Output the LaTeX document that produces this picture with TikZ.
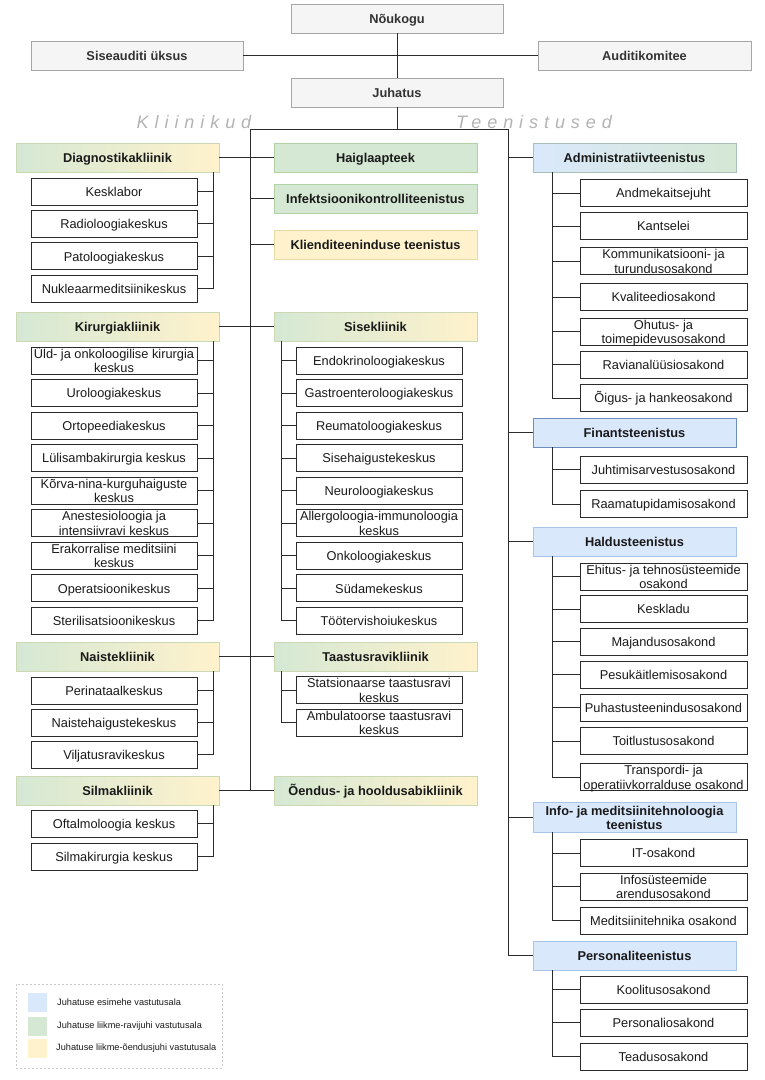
\documentclass[tikz,border=0pt]{standalone}
\usepackage{fontspec}
\setmainfont{Liberation Sans}
\definecolor{cblue}{HTML}{DAE8FC}
\definecolor{cgreen}{HTML}{D5E8D4}
\definecolor{cyellow}{HTML}{FFF2CC}
\definecolor{cgray}{HTML}{F5F5F5}
\definecolor{lineC}{HTML}{2B2B2B}
\definecolor{txt}{HTML}{1A1A1A}
\definecolor{txtgray}{HTML}{333333}
\definecolor{grayB}{HTML}{A6A6A6}
\definecolor{clinB}{HTML}{CCD8B4}
\definecolor{greenB}{HTML}{B3D1A6}
\definecolor{yellowB}{HTML}{E6D9A8}
\definecolor{blueB}{HTML}{A9C4EB}
\definecolor{blueD}{HTML}{6C8EBF}
\definecolor{admB}{HTML}{A9C2B8}
\definecolor{lblgray}{HTML}{B3B3B3}
\definecolor{legB}{HTML}{C8C8C8}
\begin{document}
\begin{tikzpicture}[x=1pt,y=-1pt,
  base/.style={inner sep=0pt, align=center, text=txt, font=\fontsize{12.8}{14.5}\selectfont},
  one/.style={text height=10.8pt, text depth=1.2pt},
  two/.style={text height=25.6pt, text depth=1.4pt},
  child/.style={base, one, draw=lineC, line width=0.9pt, fill=white, minimum width=166pt, minimum height=27pt},
  childtwo/.style={child, two},
  rchild/.style={child, minimum width=167pt},
  rchildtwo/.style={rchild, two},
  hdr/.style={base, one, font=\fontsize{12.8}{14.5}\selectfont\bfseries, minimum width=203pt, minimum height=29pt, line width=0.9pt},
  clin/.style={hdr, left color=cgreen, right color=cyellow, draw=clinB},
  greenbox/.style={hdr, fill=cgreen, draw=greenB},
  yellowbox/.style={hdr, fill=cyellow, draw=yellowB},
  bluebox/.style={hdr, fill=cblue, draw=blueB},
  topbox/.style={hdr, fill=cgray, draw=grayB, minimum width=212pt, text=txtgray},
  conn/.style={draw=lineC, line width=0.9pt},
  sectlbl/.style={anchor=base, text=lblgray, font=\fontsize{18}{18}\selectfont\itshape\addfontfeatures{LetterSpace=33}},
  legtxt/.style={anchor=west, inner sep=0pt, text=txt, font=\fontsize{9.2}{11}\selectfont},
  swatch/.style={minimum width=19pt, minimum height=19pt, inner sep=0pt}
]
\useasboundingbox (0,0) rectangle (764,1080);

% ---- top ----
\node[topbox] (nou) at (397,18.5) {Nõukogu};
\node[topbox] (sia) at (137,55.5) {Siseauditi üksus};
\node[topbox, minimum width=213pt] (aud) at (644.5,55.5) {Auditikomitee};
\node[topbox] (juh) at (397,92.5) {Juhatus};
\draw[conn] (nou.south) -- (juh.north);
\draw[conn] (sia.east) -- (aud.west);

\node[sectlbl] (lblk) at (194,128) {Kliinikud};
\node[sectlbl] (lblt) at (534,128) {Teenistused};

% ---- left column ----
\node[clin] (dh) at (117.5,157.5) {Diagnostikakliinik};
\node[clin] (kh) at (117.5,326.5) {Kirurgiakliinik};
\node[clin] (nh) at (117.5,656.5) {Naistekliinik};
\node[clin] (sh) at (117.5,790.5) {Silmakliinik};

\node[child] (d1) at (114,191.5) {Kesklabor};
\node[child] (d2) at (114,223.85) {Radioloogiakeskus};
\node[child] (d3) at (114,256.2) {Patoloogiakeskus};
\node[child] (d4) at (114,288.55) {Nukleaarmeditsiinikeskus};

\node[childtwo] (k1) at (114,360.5) {Üld- ja onkoloogilise kirurgia\\keskus};
\node[child] (k2) at (114,393.05) {Uroloogiakeskus};
\node[child] (k3) at (114,425.6) {Ortopeediakeskus};
\node[child] (k4) at (114,458.15) {Lülisambakirurgia keskus};
\node[childtwo] (k5) at (114,490.7) {Kõrva-nina-kurguhaiguste\\keskus};
\node[childtwo] (k6) at (114,523.25) {Anestesioloogia ja\\intensiivravi keskus};
\node[childtwo] (k7) at (114,555.8) {Erakorralise meditsiini\\keskus};
\node[child] (k8) at (114,588.35) {Operatsioonikeskus};
\node[child] (k9) at (114,620.9) {Sterilisatsioonikeskus};

\node[child] (n1) at (114,690.5) {Perinataalkeskus};
\node[child] (n2) at (114,722.5) {Naistehaigustekeskus};
\node[child] (n3) at (114,754.5) {Viljatusravikeskus};

\node[child] (s1) at (114,823.5) {Oftalmoloogia keskus};
\node[child] (s2) at (114,856.5) {Silmakirurgia keskus};

\draw[conn] ([xshift=-6pt]dh.south east) |- (d4.east);
\foreach \i in {1,2,3} \draw[conn] (d\i.east) -- ++(16,0);
\draw[conn] ([xshift=-6pt]kh.south east) |- (k9.east);
\foreach \i in {1,...,8} \draw[conn] (k\i.east) -- ++(16,0);
\draw[conn] ([xshift=-6pt]nh.south east) |- (n3.east);
\foreach \i in {1,2} \draw[conn] (n\i.east) -- ++(16,0);
\draw[conn] ([xshift=-6pt]sh.south east) |- (s2.east);
\draw[conn] (s1.east) -- ++(16,0);

% ---- middle column ----
\node[greenbox] (ha) at (375.5,157.5) {Haiglaapteek};
\node[greenbox] (inf) at (375.5,198.5) {Infektsioonikontrolliteenistus};
\node[yellowbox] (kl) at (375.5,244.5) {Klienditeeninduse teenistus};
\node[clin] (sis) at (375.5,326.5) {Sisekliinik};
\node[clin] (ta) at (375.5,656.5) {Taastusravikliinik};
\node[clin] (oe) at (375.5,790.5) {Õendus- ja hooldusabikliinik};

\node[child] (m1) at (379,360.5) {Endokrinoloogiakeskus};
\node[child] (m2) at (379,393.05) {Gastroenteroloogiakeskus};
\node[child] (m3) at (379,425.6) {Reumatoloogiakeskus};
\node[child] (m4) at (379,458.15) {Sisehaigustekeskus};
\node[child] (m5) at (379,490.7) {Neuroloogiakeskus};
\node[childtwo] (m6) at (379,523.25) {Allergoloogia-immunoloogia\\keskus};
\node[child] (m7) at (379,555.8) {Onkoloogiakeskus};
\node[child] (m8) at (379,588.35) {Südamekeskus};
\node[child] (m9) at (379,620.9) {Töötervishoiukeskus};

\node[childtwo] (t1) at (379,690) {Statsionaarse taastusravi\\keskus};
\node[childtwo] (t2) at (379,722.5) {Ambulatoorse taastusravi\\keskus};

\draw[conn] ([xshift=8pt]sis.south west) |- (m9.west);
\foreach \i in {1,...,8} \draw[conn] (m\i.west) -- ++(-14,0);
\draw[conn] ([xshift=8pt]ta.south west) |- (t2.west);
\draw[conn] (t1.west) -- ++(-14,0);

% ---- right column ----
\node[hdr, left color=cblue, right color=cgreen, draw=admB] (adm) at (634.5,157.5) {Administratiivteenistus};
\node[bluebox, draw=blueD] (fin) at (634.5,432.5) {Finantsteenistus};
\node[bluebox] (hal) at (634.5,541.5) {Haldusteenistus};
\node[bluebox, minimum height=30pt, text height=27.5pt, text depth=2.5pt] (info) at (634.5,817) {Info- ja meditsiinitehnoloogia\\teenistus};
\node[bluebox] (pers) at (634.5,955.5) {Personaliteenistus};

\node[rchild] (a1) at (663.5,193) {Andmekaitsejuht};
\node[rchild] (a2) at (663.5,226) {Kantselei};
\node[rchildtwo] (a3) at (663.5,261) {Kommunikatsiooni- ja\\turundusosakond};
\node[rchild] (a4) at (663.5,297) {Kvaliteediosakond};
\node[rchildtwo] (a5) at (663.5,331.5) {Ohutus- ja\\toimepidevusosakond};
\node[rchild] (a6) at (663.5,364.5) {Ravianalüüsiosakond};
\node[rchild] (a7) at (663.5,398) {Õigus- ja hankeosakond};

\node[rchild] (f1) at (663.5,469.5) {Juhtimisarvestusosakond};
\node[rchild] (f2) at (663.5,504) {Raamatupidamisosakond};

\node[rchildtwo] (h1) at (663.5,576.5) {Ehitus- ja tehnosüsteemide\\osakond};
\node[rchild] (h2) at (663.5,609) {Keskladu};
\node[rchild] (h3) at (663.5,641.5) {Majandusosakond};
\node[rchild] (h4) at (663.5,674.5) {Pesukäitlemisosakond};
\node[rchild] (h5) at (663.5,707.5) {Puhastusteenindusosakond};
\node[rchild] (h6) at (663.5,741) {Toitlustusosakond};
\node[rchildtwo] (h7) at (663.5,777) {Transpordi- ja\\operatiivkorralduse osakond};

\node[rchild] (i1) at (663.5,853) {IT-osakond};
\node[rchildtwo] (i2) at (663.5,886.5) {Infosüsteemide\\arendusosakond};
\node[rchild] (i3) at (663.5,920.5) {Meditsiinitehnika osakond};

\node[rchild] (p1) at (663.5,989.5) {Koolitusosakond};
\node[rchild] (p2) at (663.5,1022.5) {Personaliosakond};
\node[rchild] (p3) at (663.5,1056.5) {Teadusosakond};

\draw[conn] ([xshift=20pt]adm.south west) |- (a7.west);
\foreach \i in {1,...,6} \draw[conn] (a\i.west) -- ++(-27,0);
\draw[conn] ([xshift=20pt]fin.south west) |- (f2.west);
\draw[conn] (f1.west) -- ++(-27,0);
\draw[conn] ([xshift=20pt]hal.south west) |- (h7.west);
\foreach \i in {1,...,6} \draw[conn] (h\i.west) -- ++(-27,0);
\draw[conn] ([xshift=20pt]info.south west) |- (i3.west);
\foreach \i in {1,2} \draw[conn] (i\i.west) -- ++(-27,0);
\draw[conn] ([xshift=20pt]pers.south west) |- (p3.west);
\foreach \i in {1,2} \draw[conn] (p\i.west) -- ++(-27,0);

% ---- trunks ----
\coordinate (tl) at (250,129);
\coordinate (tr) at (508,129);
\draw[conn] (juh.south) -- (juh.south |- tl);
\draw[conn] (tl) -- (tr);
\draw[conn] (tl) -- (tl |- sh.east);
\draw[conn] (tr) |- (pers.west);
\draw[conn] (dh.east) -- (ha.west);
\draw[conn] (kh.east) -- (sis.west);
\draw[conn] (nh.east) -- (ta.west);
\draw[conn] (sh.east) -- (oe.west);
\draw[conn] (inf.west) -- (inf.west -| tl);
\draw[conn] (kl.west) -- (kl.west -| tl);
\foreach \n in {adm,fin,hal,info} \draw[conn] (\n.west) -- (\n.west -| tr);

% ---- legend ----
\node[draw=legB, dash pattern=on 2pt off 2pt, line width=0.8pt, minimum width=206pt, minimum height=84pt, inner sep=0pt] (leg) at (119,1026) {};
\node[swatch, fill=cblue] (lb) at (37.5,1002.5) {};
\node[swatch, fill=cgreen] (lg) at (37.5,1026.5) {};
\node[swatch, fill=cyellow] (ly) at (37.5,1048.5) {};
\node[legtxt] (lbt) at (57,1002.5) {Juhatuse esimehe vastutusala};
\node[legtxt] (lgt) at (57,1026) {Juhatuse liikme-ravijuhi vastutusala};
\node[legtxt] (lyt) at (56,1048.5) {Juhatuse liikme-õendusjuhi vastutusala};
\end{tikzpicture}
\end{document}
